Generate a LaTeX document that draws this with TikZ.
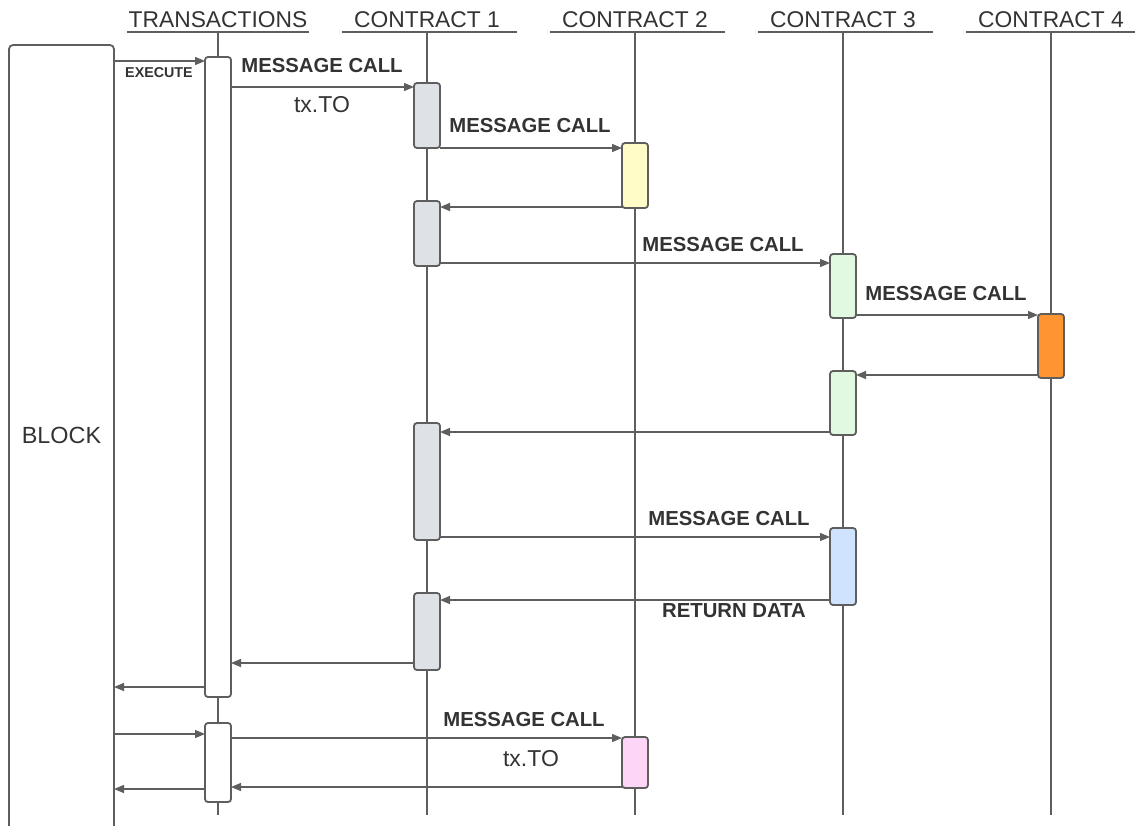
\documentclass[tikz,border=0pt]{standalone}
\usepackage{fontspec}
\setmainfont{Liberation Sans}
\usetikzlibrary{arrows.meta}
\definecolor{linec}{HTML}{5E5E5E}
\definecolor{txtc}{HTML}{333333}
\definecolor{grayf}{HTML}{DEE2E7}
\definecolor{yellowf}{HTML}{FFFCC8}
\definecolor{greenf}{HTML}{E1F9E1}
\definecolor{orangef}{HTML}{FF9530}
\definecolor{bluef}{HTML}{CFE3FF}
\definecolor{pinkf}{HTML}{FDD5F7}
\tikzset{
  header/.style={font=\fontsize{22.8}{25}\selectfont, text=txtc, anchor=base, inner sep=0pt},
  underl/.style={draw=linec, line width=1.6pt},
  life/.style={draw=linec, line width=1.5pt},
  act/.style={draw=linec, line width=1.8pt, rounded corners=3pt, minimum width=26pt, anchor=north, inner sep=0pt, outer sep=0pt},
  msg/.style={draw=linec, line width=1.3pt, -{Triangle[length=10pt,width=8pt]}},
  lbl/.style={font=\bfseries\fontsize{20.3}{22}\selectfont, text=txtc, inner sep=0pt},
  plain/.style={font=\fontsize{23}{25}\selectfont, text=txtc, inner sep=0pt},
}
\begin{document}
\begin{tikzpicture}[x=1pt,y=-1pt]
\useasboundingbox (0,0) rectangle (1135,825);
% headers
\node[header] (hT) at (218,27) {TRANSACTIONS};
\node[header] (h1) at (427,27) {CONTRACT 1};
\node[header] (h2) at (635,27) {CONTRACT 2};
\node[header] (h3) at (843,27) {CONTRACT 3};
\node[header] (h4) at (1051,27) {CONTRACT 4};
\draw[underl] (127,32) -- (309,32);
\draw[underl] (342,32) -- (517,32);
\draw[underl] (550,32) -- (725,32);
\draw[underl] (758,32) -- (933,32);
\draw[underl] (966,32) -- (1135,32);
% lifeline coordinates
\coordinate (lT) at (218,32); \coordinate (lTb) at (218,815);
\coordinate (l1) at (427,32); \coordinate (l1b) at (427,815);
\coordinate (l2) at (635,32); \coordinate (l2b) at (635,815);
\coordinate (l3) at (843,32); \coordinate (l3b) at (843,815);
\coordinate (l4) at (1051,32); \coordinate (l4b) at (1051,815);
\draw[life] (lT) -- (lTb);
\draw[life] (l1) -- (l1b);
\draw[life] (l2) -- (l2b);
\draw[life] (l3) -- (l3b);
\draw[life] (l4) -- (l4b);
% block frame
\draw[draw=linec, line width=1.8pt, rounded corners=4pt] (9,826) -- (9,45) -- (114,45) -- (114,826);
\coordinate (blk) at (114,45);
\node[plain, font=\fontsize{23.4}{25}\selectfont] (block) at (61.5,435) {BLOCK};
% activation boxes
\node[act, fill=white, minimum height=640pt] (t1) at (218,57) {};
\node[act, fill=white, minimum height=79pt] (t2) at (218,723) {};
\node[act, fill=grayf, minimum height=65pt] (c1a) at (427,83) {};
\node[act, fill=grayf, minimum height=65pt] (c1b) at (427,201) {};
\node[act, fill=grayf, minimum height=117pt] (c1c) at (427,423) {};
\node[act, fill=grayf, minimum height=77pt] (c1d) at (427,593) {};
\node[act, fill=yellowf, minimum height=65pt] (c2a) at (635,143) {};
\node[act, fill=pinkf, minimum height=51pt] (c2b) at (635,737) {};
\node[act, fill=greenf, minimum height=64pt] (c3a) at (843,254) {};
\node[act, fill=greenf, minimum height=64pt] (c3b) at (843,371) {};
\node[act, fill=bluef, minimum height=77pt] (c3c) at (843,528) {};
\node[act, fill=orangef, minimum height=64pt] (c4a) at (1051,314) {};
% messages
\draw[msg] (blk |- 0,61) -- (t1.west |- 0,61);
\node[lbl, font=\bfseries\fontsize{14.3}{16}\selectfont] (ex) at (159,73) {EXECUTE};
\draw[msg] (t1.east |- 0,87) -- (c1a.west |- 0,87);
\node[lbl] (m1) at (322,66) {MESSAGE CALL};
\node[plain] (tx1) at (322,105) {tx.TO};
\draw[msg] (c1a.east |- 0,148) -- (c2a.west |- 0,148);
\node[lbl] (m2) at (530,126) {MESSAGE CALL};
\draw[msg] (c2a.west |- 0,207) -- (c1b.east |- 0,207);
\draw[msg] (c1b.east |- 0,263) -- (c3a.west |- 0,263);
\node[lbl] (m3) at (723,245) {MESSAGE CALL};
\draw[msg] (c3a.east |- 0,315) -- (c4a.west |- 0,315);
\node[lbl] (m4) at (946,294) {MESSAGE CALL};
\draw[msg] (c4a.west |- 0,375) -- (c3b.east |- 0,375);
\draw[msg] (c3b.west |- 0,432) -- (c1c.east |- 0,432);
\draw[msg] (c1c.east |- 0,537) -- (c3c.west |- 0,537);
\node[lbl] (m5) at (729,519) {MESSAGE CALL};
\draw[msg] (c3c.west |- 0,600) -- (c1d.east |- 0,600);
\node[lbl] (rd) at (734,611) {RETURN DATA};
\draw[msg] (c1d.west |- 0,663) -- (t1.east |- 0,663);
\draw[msg] (t1.west |- 0,687) -- (blk |- 0,687);
\draw[msg] (blk |- 0,734) -- (t2.west |- 0,734);
\draw[msg] (t2.east |- 0,738) -- (c2b.west |- 0,738);
\node[lbl] (m6) at (524,720) {MESSAGE CALL};
\node[plain] (tx2) at (531,759) {tx.TO};
\draw[msg] (c2b.west |- 0,787) -- (t2.east |- 0,787);
\draw[msg] (t2.west |- 0,789) -- (blk |- 0,789);
\end{tikzpicture}
\end{document}
